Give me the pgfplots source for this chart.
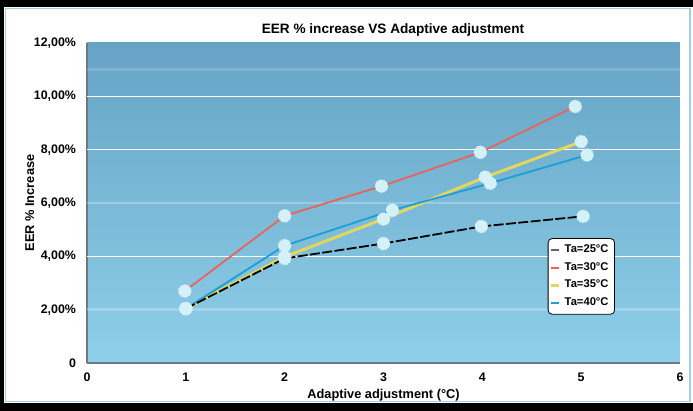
\documentclass[border=0pt]{standalone}
\usepackage{fontspec}
\setmainfont{Liberation Sans}
\usepackage{pgfplots}
\pgfplotsset{compat=1.18}
\definecolor{bgtop}{RGB}{102,163,197}
\definecolor{bgmid}{RGB}{122,190,220}
\definecolor{bgbot}{RGB}{142,207,233}
\definecolor{c30}{RGB}{232,100,88}
\definecolor{c35}{RGB}{226,214,92}
\definecolor{c40}{RGB}{28,158,214}
\definecolor{mfill}{RGB}{212,241,249}
\definecolor{frameline}{RGB}{160,208,228}
\definecolor{axgray}{RGB}{110,120,125}

\pgfplotsset{
  dot/.style={mark=*, mark size=3.1pt,
    mark options={solid, fill=mfill, draw=white!85!cyan, line width=0.55pt,
      dash pattern=on 0.7pt off 0.7pt}},
}

\begin{document}
\begin{tikzpicture}
% frame round the whole chart (1px = 0.5pt)
\path[use as bounding box] (0,0) rectangle (346.5pt,205.5pt);
\fill[black] (0,0) rectangle (346.5pt,205.5pt);
\fill[white] (2pt,4pt) rectangle (346.5pt,202pt);
\draw[frameline, line width=0.6pt] (2.8pt,4.8pt) rectangle (345pt,201.2pt);

\begin{axis}[
  at={(43.5pt,24pt)}, anchor=south west,
  scale only axis,
  width=296.5pt, height=160pt,
  xmin=0, xmax=6, ymin=0, ymax=12,
  xtick={0,1,2,3,4,5,6},
  ytick={0,2,4,6,8,10,12},
  yticklabels={0,{2,00\%},{4,00\%},{6,00\%},{8,00\%},{10,00\%},{12,00\%}},
  /pgf/number format/assume math mode=true,
  tick label style={font=\bfseries\fontsize{6.2}{7}\selectfont},
  major tick length=0pt,
  axis x line*=bottom, axis y line*=left,
  axis line style={axgray, line width=0.8pt},
  x axis line style={-}, y axis line style={-},
  xticklabel style={yshift=-1.5pt},
  yticklabel style={xshift=-2pt},
  axis background/.style={shade, top color=bgtop, middle color=bgmid, bottom color=bgbot},
  title={EER \% increase VS Adaptive adjustment},
  title style={font=\bfseries\fontsize{6.8}{8}\selectfont, at={(0.516,1)}, anchor=south, yshift=-6pt},
  xlabel={Adaptive adjustment (°C)},
  xlabel style={font=\bfseries\fontsize{6.4}{7.5}\selectfont, yshift=3pt},
  ylabel={EER \% Increase},
  ylabel style={font=\bfseries\fontsize{6.4}{7.5}\selectfont, yshift=-7pt},
  legend style={at={(0.777,0.39)}, anchor=north west, draw=black,
    rounded corners=2pt, fill=white, inner sep=1pt,
    font=\bfseries\fontsize{5.6}{6.5}\selectfont, row sep=-0.6pt},
  legend cell align=left,
  legend image code/.code={\draw[#1] (0pt,0pt) -- (4pt,0pt);},
]
% horizontal grid, strong and faint lines as in the reference
\draw[white, line width=0.8pt] (axis cs:0,4) -- (axis cs:6,4);
\draw[white, line width=0.8pt] (axis cs:0,8) -- (axis cs:6,8);
\draw[white, line width=0.8pt] (axis cs:0,10) -- (axis cs:6,10);
\draw[white, opacity=0.25, line width=1.2pt] (axis cs:0,2) -- (axis cs:6,2);
\draw[white, opacity=0.25, line width=1.2pt] (axis cs:0,6) -- (axis cs:6,6);
\draw[white, opacity=0.15, line width=1.2pt] (axis cs:0,11) -- (axis cs:6,11);

\addlegendimage{black!60, line width=0.9pt}
\addlegendentry{Ta=25°C}
\addlegendimage{c30, line width=0.9pt}
\addlegendentry{Ta=30°C}
\addlegendimage{c35, line width=1.3pt}
\addlegendentry{Ta=35°C}
\addlegendimage{c40, line width=0.9pt}
\addlegendentry{Ta=40°C}

% Ta=30
\addplot[c30, line width=0.9pt, dot, forget plot] coordinates {
  (0.99,2.70) (2.0,5.52) (2.98,6.63) (3.98,7.90) (4.94,9.62)};
% Ta=35
\addplot[c35, line width=1.5pt, dot, forget plot] coordinates {
  (1.0,2.04) (2.0,3.98) (3.0,5.40) (4.03,6.97) (5.0,8.30)};
% Ta=40
\addplot[c40, line width=0.9pt, dot, forget plot] coordinates {
  (1.0,2.04) (2.0,4.40) (3.09,5.73) (4.08,6.74) (5.06,7.80)};
% Ta=25
\addplot[black, line width=0.9pt, dash pattern=on 5pt off 1.2pt, dot, forget plot] coordinates {
  (1.0,2.04) (2.0,3.92) (3.0,4.48) (3.99,5.12) (5.02,5.50)};
\end{axis}
\end{tikzpicture}
\end{document}
